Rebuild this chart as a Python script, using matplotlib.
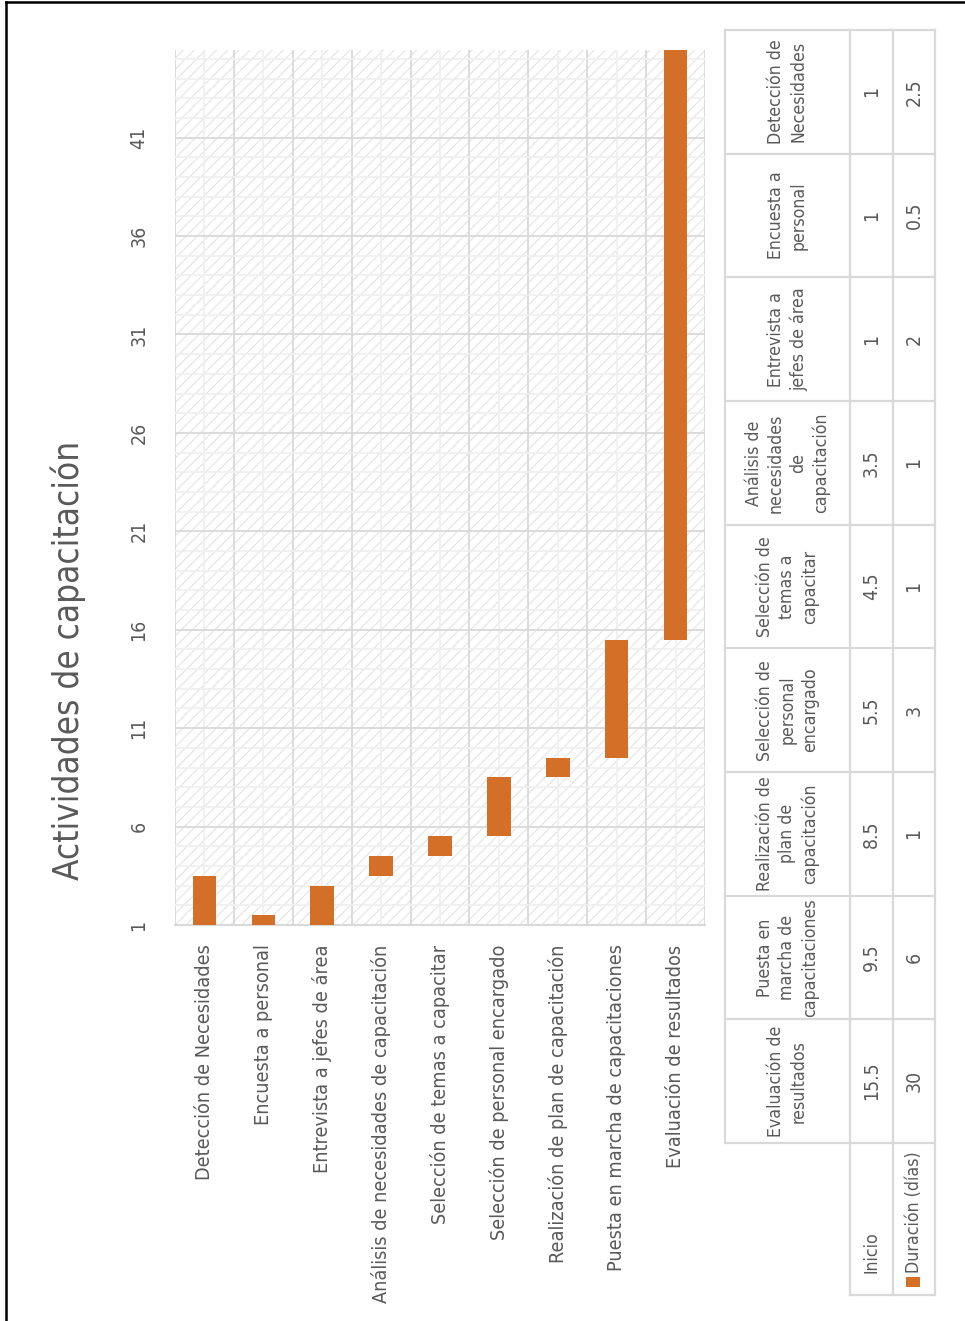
import numpy as np
import matplotlib.pyplot as plt
from matplotlib import font_manager
from matplotlib.patches import Rectangle
from matplotlib.lines import Line2D

# fuente estrecha si existe (el original es Calibri Light comprimido)
condensadas = [f for f in font_manager.fontManager.ttflist
               if f.name == "DejaVu Sans" and "condensed" in str(f.stretch)
               and f.style == "normal"]
if condensadas:
    plt.rcParams["font.family"] = ["DejaVu Sans"]
    plt.rcParams["font.stretch"] = "condensed"
else:
    plt.rcParams["font.family"] = ["Liberation Sans", "DejaVu Sans"]
plt.rcParams["hatch.linewidth"] = 0.7

actividades = [
    "Detección de Necesidades",
    "Encuesta a personal",
    "Entrevista a jefes de área",
    "Análisis de necesidades de capacitación",
    "Selección de temas a capacitar",
    "Selección de personal encargado",
    "Realización de plan de capacitación",
    "Puesta en marcha de capacitaciones",
    "Evaluación de resultados",
]
etiquetas_tabla = [
    "Detección de\nNecesidades",
    "Encuesta a\npersonal",
    "Entrevista a\njefes de área",
    "Análisis de\nnecesidades\nde\ncapacitación",
    "Selección de\ntemas a\ncapacitar",
    "Selección de\npersonal\nencargado",
    "Realización de\nplan de\ncapacitación",
    "Puesta en\nmarcha de\ncapacitaciones",
    "Evaluación de\nresultados",
]
inicio = [1, 1, 1, 3.5, 4.5, 5.5, 8.5, 9.5, 15.5]
duracion = [2.5, 0.5, 2, 1, 1, 3, 1, 6, 30]

naranja = "#D46F28"
gris_txt = "#595959"
gris_linea = "#D9D9D9"

W, H = 965, 1321
fig = plt.figure(figsize=(W / 100, H / 100), dpi=100)
renderer = fig.canvas.get_renderer()


def tam(texto, largo_px):
    # tamano de letra para que el texto mida largo_px
    t = fig.text(0, 0, texto, fontsize=10)
    w = t.get_window_extent(renderer=renderer).width
    t.remove()
    return 10 * largo_px / w


fs_cat = tam("Análisis de necesidades de capacitación", 360)
fs_tit = tam("Actividades de capacitación", 440)
fs_tick = tam("41", 22)
fs_tab = tam("Duración (días)", 122)

# capa de fondo en pixeles para tabla, titulo y marco
ov = fig.add_axes([0, 0, 1, 1], zorder=0)
ov.set_xlim(0, W)
ov.set_ylim(H, 0)
ov.axis("off")

# grafico principal (rotado 90 grados)
x0, x1, y0, y1 = 175, 705, 50, 925
ax = fig.add_axes([x0 / W, 1 - y1 / H, (x1 - x0) / W, (y1 - y0) / H], zorder=1)
ax.patch.set_alpha(0)
ax.add_patch(Rectangle((0, 0), 1, 1, transform=ax.transAxes, facecolor="white",
                       edgecolor="#E0E0E0", lw=0, hatch="///", zorder=0))
pos = np.arange(len(actividades))
ax.bar(pos, duracion, bottom=inicio, width=0.4, color=naranja, zorder=3)
ax.set_xlim(-0.5, len(actividades) - 0.5)
ax.set_ylim(1, 45.45)
ax.set_yticks(np.arange(1, 46, 5))
ax.set_yticks(np.arange(1, 46, 1), minor=True)
ax.set_xticks(pos)
ax.set_xticks(np.arange(-0.5, len(actividades), 1), minor=True)
ax.grid(which="major", axis="y", color=gris_linea, lw=1.3, zorder=1)
ax.grid(which="minor", axis="y", color="#F0F0F0", lw=1.3, zorder=0.9)
ax.grid(which="minor", axis="x", color=gris_linea, lw=1.3, zorder=1)
ax.grid(which="major", axis="x", color="#F0F0F0", lw=1.3, zorder=0.9)
ax.set_axisbelow(True)
for s in ["top", "left", "right"]:
    ax.spines[s].set_visible(False)
ax.spines["bottom"].set_color(gris_linea)
ax.spines["bottom"].set_linewidth(1.5)
ax.tick_params(which="both", length=0)
ax.tick_params(axis="y", pad=19, labelsize=fs_tick, labelcolor=gris_txt)
ax.tick_params(axis="x", pad=14, labelsize=fs_cat, labelcolor=gris_txt)
for t in ax.get_yticklabels():
    t.set_rotation(90)
    t.set_verticalalignment("center")
ax.set_xticklabels(actividades, rotation=90, ha="center", va="top")

# titulo
ov.text(68, 660, "Actividades de capacitación", rotation=90, ha="center", va="center",
        fontsize=fs_tit, color=gris_txt)

# tabla de datos
n = len(actividades)
ty0, tyh = 30, (1143 - 30) / n
cx = [725, 850, 893, 935]
ty_fin = ty0 + n * tyh
leg_fin = 1295
kw = dict(color=gris_linea, lw=1.6, solid_capstyle="projecting")
for i in range(n + 1):
    y = ty0 + i * tyh
    ov.plot([cx[0], cx[3]], [y, y], **kw)
ov.plot([cx[1], cx[3]], [leg_fin, leg_fin], **kw)
ov.plot([cx[0], cx[0]], [ty0, ty_fin], **kw)
for c in cx[1:]:
    ov.plot([c, c], [ty0, leg_fin], **kw)

for i in range(n):
    yc = ty0 + (i + 0.5) * tyh
    ov.text((cx[0] + cx[1]) / 2, yc, etiquetas_tabla[i], rotation=90, ha="center",
            va="center", multialignment="center", fontsize=fs_tab, color=gris_txt,
            linespacing=1.3)
    ov.text((cx[1] + cx[2]) / 2, yc, f"{inicio[i]:g}", rotation=90, ha="center",
            va="center", fontsize=fs_tab * 1.1, color=gris_txt)
    ov.text((cx[2] + cx[3]) / 2, yc, f"{duracion[i]:g}", rotation=90, ha="center",
            va="center", fontsize=fs_tab * 1.1, color=gris_txt)

# claves de leyenda
ov.text((cx[1] + cx[2]) / 2, 1273, "Inicio", rotation=90, ha="center", va="bottom",
        fontsize=fs_tab, color=gris_txt)
ov.text((cx[2] + cx[3]) / 2, 1273, "Duración (días)", rotation=90, ha="center",
        va="bottom", fontsize=fs_tab, color=gris_txt)
ov.add_patch(Rectangle((906, 1277), 14, 10, facecolor=naranja, lw=0))

# marco exterior
fig.add_artist(Line2D([6 / W, 6 / W], [0, 1 - 2 / H], color="black", lw=1.8))
fig.add_artist(Line2D([6 / W, 1], [1 - 2 / H, 1 - 2 / H], color="black", lw=1.8))

fig.savefig("out.png", dpi=100)
